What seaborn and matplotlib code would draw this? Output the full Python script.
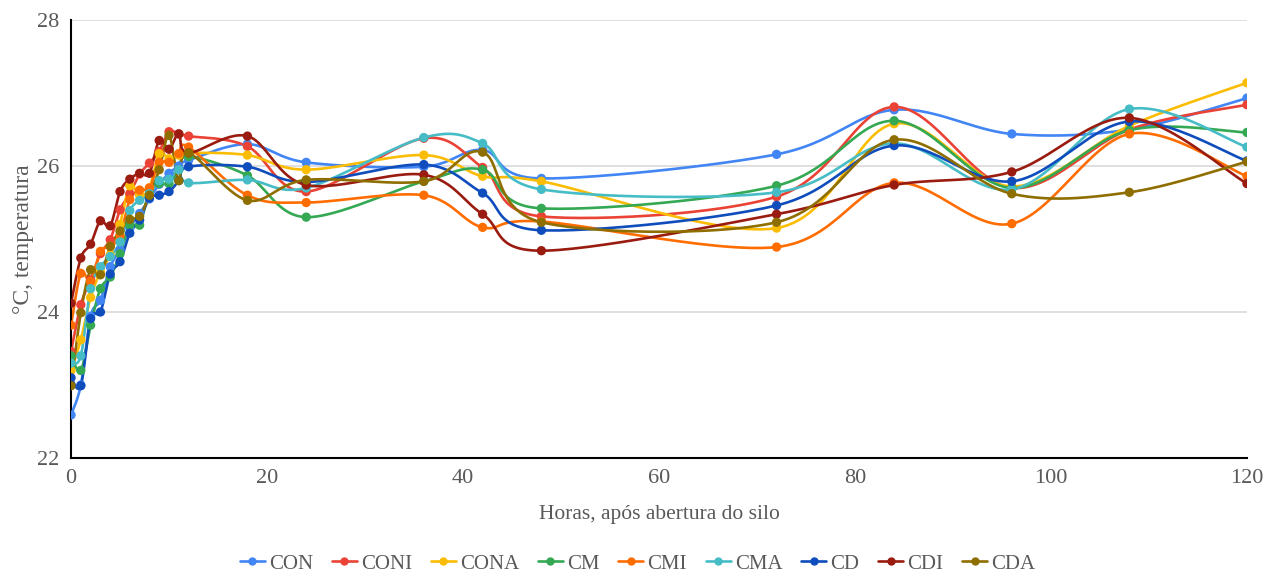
import matplotlib
matplotlib.use('Agg')
import matplotlib.pyplot as plt
from matplotlib.lines import Line2D
import numpy as np
import pandas as pd
import seaborn as sns

horas = [0, 1, 2, 3, 4, 5, 6, 7, 8, 9, 10, 11, 12, 18, 24, 36, 42, 48, 72, 84, 96, 108, 120]

CON = [22.59, 23.0, 23.94, 24.16, 24.62, 24.85, 25.15, 25.35, 25.55, 25.75, 25.9, 26.0, 26.08,
       26.3, 26.05, 25.99, 26.22, 25.83, 26.16, 26.77, 26.44, 26.5, 26.93]
CONI = [23.46, 24.1, 24.44, 24.8, 24.99, 25.4, 25.62, 25.89, 26.04, 26.2, 26.47, 26.44, 26.41,
        26.27, 25.65, 26.38, 25.98, 25.31, 25.58, 26.81, 25.7, 26.5, 26.84]
CONA = [23.2, 23.62, 24.2, 24.55, 24.78, 25.2, 25.73, 25.6, 25.7, 26.17, 26.1, 26.15, 26.18,
        26.15, 25.95, 26.15, 25.86, 25.79, 25.15, 26.58, 25.72, 26.55, 27.14]
CM = [23.4, 23.2, 23.82, 24.32, 24.48, 24.8, 25.19, 25.19, 25.67, 25.76, 25.76, 25.95, 26.13,
      25.87, 25.3, 25.79, 25.95, 25.42, 25.73, 26.62, 25.7, 26.49, 26.46]
CMI = [23.82, 24.53, 24.42, 24.83, 24.9, 25.05, 25.54, 25.67, 25.7, 26.05, 26.05, 26.17, 26.26,
       25.6, 25.5, 25.6, 25.16, 25.24, 24.89, 25.77, 25.21, 26.44, 25.86]
CMA = [23.3, 23.4, 24.32, 24.62, 24.76, 24.96, 25.39, 25.53, 25.62, 25.8, 25.82, 25.95, 25.77,
       25.81, 25.7, 26.39, 26.31, 25.68, 25.64, 26.31, 25.68, 26.78, 26.26]
CD = [23.1, 22.99, 23.91, 24.0, 24.52, 24.69, 25.08, 25.26, 25.56, 25.6, 25.65, 25.8, 25.99,
      25.99, 25.78, 26.02, 25.63, 25.12, 25.46, 26.28, 25.79, 26.61, 26.07]
CDI = [24.12, 24.74, 24.93, 25.25, 25.18, 25.65, 25.82, 25.9, 25.9, 26.35, 26.23, 26.44, 26.18,
       26.41, 25.74, 25.88, 25.34, 24.84, 25.34, 25.74, 25.92, 26.66, 25.76]
CDA = [22.99, 23.99, 24.58, 24.51, 24.9, 25.11, 25.27, 25.31, 25.6, 25.95, 26.42, 25.8, 26.18,
       25.53, 25.81, 25.79, 26.19, 25.23, 25.23, 26.36, 25.62, 25.64, 26.06]

series = ['CON', 'CONI', 'CONA', 'CM', 'CMI', 'CMA', 'CD', 'CDI', 'CDA']
valores = [CON, CONI, CONA, CM, CMI, CMA, CD, CDI, CDA]
cores = ['#4285F4', '#EA4335', '#FBBC04', '#34A853', '#FF6D01', '#46BDC6',
         '#0F4DBC', '#9A1B10', '#8F6E00']


def suavizar(x, y, n=30):
    # smoothed line like the spreadsheet (bezier through the points)
    p = np.column_stack([x, y]).astype(float)
    p = np.vstack([p[0], p, p[-1]])
    out = []
    t = np.linspace(0, 1, n)[:, None]
    for i in range(1, len(p) - 2):
        p0, p1, p2, p3 = p[i - 1], p[i], p[i + 1], p[i + 2]
        c1 = p1 + (p2 - p0) / 6
        c2 = p2 - (p3 - p1) / 6
        seg = ((1 - t) ** 3) * p1 + 3 * ((1 - t) ** 2) * t * c1 + 3 * (1 - t) * t ** 2 * c2 + t ** 3 * p2
        out.append(seg if i == 1 else seg[1:])
    out = np.vstack(out)
    return out[:, 0], out[:, 1]


sns.set_style("white")
plt.rcParams['font.family'] = ['Liberation Serif', 'DejaVu Serif']

fig = plt.figure(figsize=(12.75, 5.77), dpi=100)
ax = fig.add_axes([0.0557, 0.2062, 0.9223, 0.7591])

for nome, v, cor in zip(series, valores, cores):
    xs, ys = suavizar(horas, v)
    sns.lineplot(x=xs, y=ys, sort=False, estimator=None, color=cor, linewidth=1.9, ax=ax)
    df = pd.DataFrame({'horas': horas, 'temp': v})
    sns.scatterplot(data=df, x='horas', y='temp', color=cor, s=45, edgecolor='none', ax=ax, zorder=3)

ax.set_xlim(0, 120)
ax.set_ylim(22, 28)
ax.set_yticks([22, 24, 26, 28])
ax.set_xticks([0, 20, 40, 60, 80, 100, 120])
ax.yaxis.grid(True, color='#d9d9d9', linewidth=1.2)
ax.set_axisbelow(True)
for s in ['top', 'right']:
    ax.spines[s].set_visible(False)
for s in ['left', 'bottom']:
    ax.spines[s].set_color('black')
    ax.spines[s].set_linewidth(1.5)
ax.tick_params(axis='both', labelsize=16, colors='#595959', length=5, width=1.5, direction='out')
ax.tick_params(axis='both', color='black')
ax.tick_params(axis='x', pad=3)
ax.set_xlabel('Horas, após abertura do silo', fontsize=15.5, color='#595959', labelpad=12)
ax.set_ylabel('°C, temperatura', fontsize=17, color='#595959', labelpad=2)

handles = [Line2D([0], [0], color=c, linewidth=1.9, marker='o', markersize=5) for c in cores]
fig.legend(handles, series, loc='center', bbox_to_anchor=(0.5, 0.023), ncol=9, frameon=False,
           fontsize=15, labelcolor='#595959', handlelength=1.2, handletextpad=0.2, columnspacing=0.9)

plt.savefig('out.png', dpi=100)
